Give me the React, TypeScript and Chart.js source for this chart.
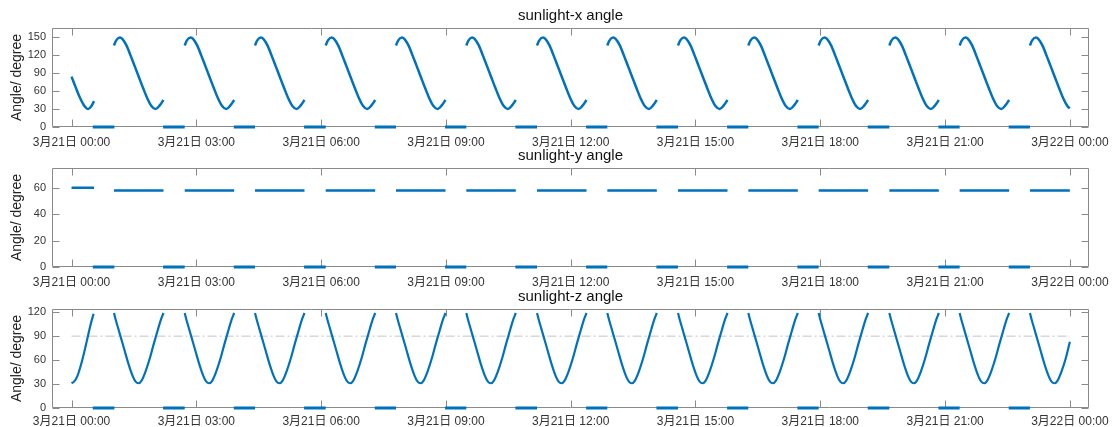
import React, { useEffect, useRef } from 'react';
import { Chart, registerables } from 'chart.js';

Chart.register(...registerables);

// ---------- data (time in hours from 3月21日 00:00) ----------
const tickHours = [0, 3, 6, 9, 12, 15, 18, 21, 24];
const tickLabels = [
  '3月21日 00:00', '3月21日 03:00', '3月21日 06:00', '3月21日 09:00', '3月21日 12:00',
  '3月21日 15:00', '3月21日 18:00', '3月21日 21:00', '3月22日 00:00',
];
const endHour = 24;

// start of each sunlit arc
const orbitStarts = [1.02, 2.72, 4.41, 6.11, 7.80, 9.49, 11.19, 12.88, 14.58, 16.27, 17.96, 19.66, 21.35, 23.04];
// eclipse intervals (angle drawn as 0)
const eclipseStarts = [0.51, 2.20, 3.90, 5.59, 7.29, 8.98, 10.67, 12.37, 14.06, 15.76, 17.45, 19.14, 20.84, 22.53];
const eclipseEnds = [1.03, 2.72, 4.41, 6.11, 7.80, 9.49, 11.19, 12.88, 14.58, 16.27, 17.96, 19.66, 21.35, 23.04];

// sunlight-x angle
const xFirstHours = [0, 0.1, 0.2, 0.3, 0.4, 0.47, 0.54];
const xFirstValues = [84, 66, 49, 36, 30, 34, 43];
const xArcOffsets = [0, 0.05, 0.14, 0.2, 0.3, 0.4, 0.5, 0.6, 0.7, 0.8, 0.9, 1.0, 1.1, 1.19];
const xArcValues = [136, 144, 149, 147, 136, 119, 101, 83, 65, 48, 35, 30, 36, 45];
const xEndValue = 31;
const xTicks = [0, 30, 60, 90, 120, 150];

// sunlight-y angle
const yFirstHours = [0, 0.54];
const yFirstValues = [60, 60];
const yArcOffsets = [0, 1.19];
const yArcLevels = [58, 58, 58, 58, 58, 58, 58, 58, 58, 58, 58, 58, 58, 58];
const yEndValue = 58;
const yTicks = [0, 20, 40, 60];

// sunlight-z angle
const zFirstHours = [0, 0.06, 0.14, 0.22, 0.30, 0.38, 0.46, 0.53];
const zFirstValues = [31, 33, 40, 53, 69, 87, 105, 118];
const zArcOffsets = [0, 0.05, 0.1, 0.15, 0.25, 0.35, 0.45, 0.52, 0.59, 0.66, 0.76, 0.86, 0.96, 1.06, 1.13, 1.19];
const zArcValues = [119, 109, 100, 91, 73, 55, 40, 33, 31, 34, 46, 62, 81, 99, 111, 119];
const zEndValue = 83;
const zTicks = [0, 30, 60, 90, 120];
const zRefLine = 90;

const BLUE = '#0072BD';
const FONT = '"Liberation Sans", Arial, "Noto Sans CJK SC", sans-serif';

type Pt = { x: number; y: number | null };

function buildSunlit(
  firstH: number[], firstV: number[], offsets: number[],
  valuesFor: (orbit: number, i: number) => number, endValue: number,
): Pt[] {
  const pts: Pt[] = [];
  firstH.forEach((h, i) => pts.push({ x: h, y: firstV[i] }));
  orbitStarts.forEach((s, k) => {
    pts.push({ x: s - 0.005, y: null });
    offsets.forEach((o, i) => {
      if (s + o < endHour - 1e-6) pts.push({ x: s + o, y: valuesFor(k, i) });
    });
    if (s + offsets[offsets.length - 1] >= endHour) pts.push({ x: endHour, y: endValue });
  });
  return pts;
}

function buildEclipse(): Pt[] {
  const pts: Pt[] = [];
  eclipseStarts.forEach((s, i) => {
    pts.push({ x: s, y: 0 }, { x: eclipseEnds[i], y: 0 }, { x: eclipseEnds[i] + 0.005, y: null });
  });
  return pts;
}

const matlabAxes = {
  id: 'matlabAxes',
  beforeDatasetsDraw(chart: any, _args: any, opts: any) {
    const { ctx, chartArea: a, scales } = chart;
    const L = Math.round(a.left) + 0.5, R = Math.round(a.right) - 0.5;
    const T = Math.round(a.top) + 0.5, B = Math.round(a.bottom) - 0.5;
    const tl = 7;
    ctx.save();
    ctx.strokeStyle = '#8a8a8a';
    ctx.lineWidth = 1;
    ctx.beginPath();
    ctx.rect(L, T, R - L, B - T);
    tickHours.forEach((h) => {
      const px = Math.round(scales.x.getPixelForValue(h)) + 0.5;
      ctx.moveTo(px, B); ctx.lineTo(px, B - tl);
      ctx.moveTo(px, T); ctx.lineTo(px, T + tl);
    });
    (opts.yTicks as number[]).forEach((v) => {
      const py = Math.round(scales.y.getPixelForValue(v)) + 0.5;
      ctx.moveTo(L, py); ctx.lineTo(L + tl, py);
      ctx.moveTo(R, py); ctx.lineTo(R - tl, py);
    });
    ctx.stroke();
    ctx.restore();
  },
  afterDraw(chart: any, _args: any, opts: any) {
    const { ctx, chartArea: a } = chart;
    ctx.save();
    ctx.fillStyle = '#111';
    ctx.font = `15px ${FONT}`;
    ctx.textAlign = 'center';
    ctx.textBaseline = 'middle';
    ctx.fillText(opts.title, (a.left + a.right) / 2, a.top - 12);
    ctx.restore();
  },
};

type PanelCfg = {
  title: string; yMax: number; yTicks: number[]; padTop: number; padBottom: number;
  xAxisH: number; labelPad: number; datasets: any[];
};

const lineDs = (data: Pt[], smooth: boolean, width: number) => ({
  data,
  borderColor: BLUE,
  backgroundColor: BLUE,
  borderWidth: width,
  pointRadius: 0,
  spanGaps: false,
  fill: false,
  clip: false,
  cubicInterpolationMode: smooth ? 'monotone' : 'default',
  tension: 0,
  borderCapStyle: 'butt',
});

const panels: PanelCfg[] = [
  {
    title: 'sunlight-x angle', yMax: 165, yTicks: xTicks, padTop: 28, padBottom: 270, xAxisH: 30, labelPad: 8,
    datasets: [
      lineDs(buildSunlit(xFirstHours, xFirstValues, xArcOffsets, (_k, i) => xArcValues[i], xEndValue), true, 2.5),
      lineDs(buildEclipse(), false, 3),
    ],
  },
  {
    title: 'sunlight-y angle', yMax: 75, yTicks: yTicks, padTop: 168, padBottom: 130, xAxisH: 30, labelPad: 8,
    datasets: [
      lineDs(buildSunlit(yFirstHours, yFirstValues, yArcOffsets, (k) => yArcLevels[k], yEndValue), false, 2.5),
      lineDs(buildEclipse(), false, 3),
    ],
  },
  {
    title: 'sunlight-z angle', yMax: 124, yTicks: zTicks, padTop: 309, padBottom: 0, xAxisH: 19, labelPad: 6,
    datasets: [
      lineDs(buildSunlit(zFirstHours, zFirstValues, zArcOffsets, (_k, i) => zArcValues[i], zEndValue), true, 2.2),
      lineDs(buildEclipse(), false, 3),
      {
        data: [{ x: 0, y: zRefLine }, { x: endHour, y: zRefLine }],
        borderColor: '#c4c4c4',
        borderWidth: 1,
        borderDash: [9, 3, 2, 3],
        pointRadius: 0,
        fill: false,
      },
    ],
  },
];

function makeChart(canvas: HTMLCanvasElement, p: PanelCfg) {
  return new Chart(canvas, {
    type: 'line',
    data: { datasets: p.datasets },
    options: {
      animation: false,
      responsive: false,
      devicePixelRatio: 1,
      events: [],
      layout: { padding: { left: 0, right: 24, top: p.padTop, bottom: p.padBottom } },
      plugins: {
        legend: { display: false },
        tooltip: { enabled: false },
        title: { display: false },
        matlabAxes: { title: p.title, yTicks: p.yTicks },
      } as any,
      scales: {
        x: {
          type: 'linear',
          min: -0.47,
          max: 24.46,
          grid: { display: false, drawTicks: false },
          border: { display: false },
          afterBuildTicks: (s: any) => { s.ticks = tickHours.map((v) => ({ value: v })); },
          afterFit: (s: any) => { s.height = p.xAxisH; s.paddingLeft = 0; s.paddingRight = 0; },
          ticks: {
            autoSkip: false,
            maxRotation: 0,
            padding: p.labelPad,
            color: '#333333',
            font: { family: FONT, size: 12 },
            callback: (_v: any, i: number) => tickLabels[i],
          },
        },
        y: {
          type: 'linear',
          min: 0,
          max: p.yMax,
          grid: { display: false, drawTicks: false },
          border: { display: false },
          afterBuildTicks: (s: any) => { s.ticks = p.yTicks.map((v) => ({ value: v })); },
          afterFit: (s: any) => { s.width = 52; s.paddingTop = 0; s.paddingBottom = 0; },
          ticks: {
            padding: 6,
            color: '#333333',
            font: { family: FONT, size: 11 },
          },
          title: {
            display: true,
            text: 'Angle/ degree',
            color: '#222',
            font: { family: FONT, size: 14 },
            padding: { top: 9, bottom: 0 },
          },
        },
      },
    } as any,
    plugins: [matlabAxes],
  });
}

export default function App() {
  const r1 = useRef<HTMLCanvasElement>(null);
  const r2 = useRef<HTMLCanvasElement>(null);
  const r3 = useRef<HTMLCanvasElement>(null);

  useEffect(() => {
    document.body.style.margin = '0';
    const refs = [r1, r2, r3];
    const charts = panels.map((p, i) => makeChart(refs[i].current as HTMLCanvasElement, p));
    return () => charts.forEach((c) => c.destroy());
  }, []);

  const cs: React.CSSProperties = { position: 'absolute', left: 0, top: 0 };
  return (
    <div style={{ position: 'relative', width: 1113, height: 427, background: '#fff' }}>
      <canvas ref={r1} width={1113} height={427} style={cs} />
      <canvas ref={r2} width={1113} height={427} style={cs} />
      <canvas ref={r3} width={1113} height={427} style={cs} />
    </div>
  );
}
